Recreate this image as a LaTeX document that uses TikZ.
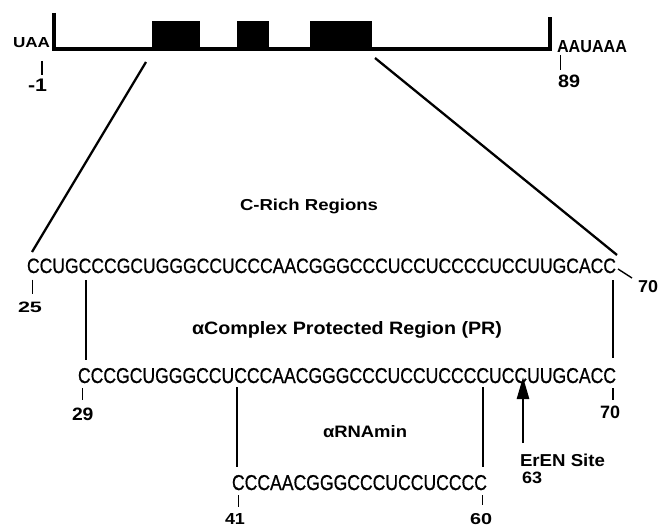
\documentclass[tikz,border=0pt]{standalone}
\usepackage{fontspec}
\setmainfont{Liberation Sans}
\newfontfamily\seqfont[FakeBold=0.8]{Liberation Sans}
\usepackage{graphicx}
\usetikzlibrary{arrows.meta}
\newcommand{\fitbox}[3]{\resizebox{#1pt}{#2pt}{#3}}
\begin{document}
\begin{tikzpicture}[x=1pt,y=-1pt,
  seq/.style={anchor=base west, inner sep=0pt, outer sep=0pt, font=\seqfont},
  lbl/.style={anchor=base west, inner sep=0pt, outer sep=0pt, font=\bfseries},
  gene/.style={line width=3.4pt, line join=miter},
  conn/.style={line width=2.3pt},
  tick/.style={line width=1.4pt},
  hair/.style={line width=1pt},
  arr/.style={line width=2.6pt, -{Triangle[length=22pt,width=12pt]}}]
\useasboundingbox (0,0) rectangle (661,527);
% gene map
\draw[gene] (54,13) -- (54,49) -- (550,49) -- (550,17);
\fill (152,21.5) rectangle (200,49.5);
\fill (237,21.5) rectangle (269,49.5);
\fill (310,21.5) rectangle (372,49.5);
\node[lbl] (uaa) at (13,48) {\fitbox{37}{10}{UAA}};
\node[lbl] (aauaaa) at (557,52.5) {\fitbox{70}{12}{AAUAAA}};
\node[lbl] (nm1) at (28,92) {\fitbox{19}{12.5}{-1}};
\node[lbl] (n89) at (558,88) {\fitbox{22}{12.5}{89}};
\coordinate (tUt) at (42,61); \coordinate (tUb) at (42,75);
\coordinate (tAt) at (560.5,55); \coordinate (tAb) at (560.5,70);
\draw[tick] (tUt) -- (tUb);
\draw[tick] (tAt) -- (tAb);
% zoom lines
\coordinate (gL) at (146,62); \coordinate (sL) at (32,252);
\coordinate (gR) at (375,58); \coordinate (sR) at (617,255);
\draw[conn] (gL) -- (sL);
\draw[conn] (gR) -- (sR);
\node[lbl] (crich) at (240,210) {\fitbox{138}{11.5}{C-Rich Regions}};
% sequence 1
\node[seq] (s1) at (27,273) {\fitbox{589}{14.5}{CCUGCCCGCUGGGCCUCCCAACGGGCCCUCCUCCCCUCCUUGCACC}};
\node[lbl] (n25) at (18,312) {\fitbox{24}{10.5}{25}};
\coordinate (t25t) at (32.3,279.5); \coordinate (t25b) at (32.3,293.5);
\draw[tick] (t25t) -- (t25b);
\coordinate (t70a) at (618,269); \coordinate (t70b) at (632,278);
\draw[tick] (t70a) -- (t70b);
\node[lbl] (n70a) at (638,292) {\fitbox{20}{12}{70}};
\coordinate (v1t) at (86,280); \coordinate (v1b) at (86,360);
\coordinate (v2t) at (613,280); \coordinate (v2b) at (613,358);
\draw[conn] (v1t) -- (v1b);
\draw[conn] (v2t) -- (v2b);
\node[lbl] (pr) at (192,334) {\fitbox{310}{13}{αComplex Protected Region (PR)}};
% sequence 2
\node[seq] (s2) at (78,383) {\fitbox{538}{15}{CCCGCUGGGCCUCCCAACGGGCCCUCCUCCCCUCCUUGCACC}};
\coordinate (t29t) at (82.3,388); \coordinate (t29b) at (82.3,400);
\draw[tick] (t29t) -- (t29b);
\node[lbl] (n29) at (72,420) {\fitbox{21.5}{12.5}{29}};
\coordinate (t70t) at (613,388); \coordinate (t70bb) at (613,400);
\draw[tick] (t70t) -- (t70bb);
\node[lbl] (n70b) at (600,418) {\fitbox{20}{12.5}{70}};
\coordinate (v3t) at (237,387); \coordinate (v3b) at (237,467);
\coordinate (v4t) at (483,387); \coordinate (v4b) at (483,467);
\draw[conn] (v3t) -- (v3b);
\draw[conn] (v4t) -- (v4b);
\coordinate (arrB) at (523,443); \coordinate (arrT) at (523,377);
\draw[arr] (arrB) -- (arrT);
\node[lbl] (rnamin) at (323,437) {\fitbox{84}{12}{αRNAmin}};
\node[lbl] (eren) at (520,466.5) {\fitbox{85}{12.5}{ErEN Site}};
\node[lbl] (n63) at (522,483) {\fitbox{20}{11.5}{63}};
% sequence 3
\node[seq] (s3) at (232,490) {\fitbox{255}{15}{CCCAACGGGCCCUCCUCCCC}};
\coordinate (t41t) at (238,495); \coordinate (t41b) at (238,507);
\coordinate (t60t) at (482,495); \coordinate (t60b) at (482,505);
\draw[hair] (t41t) -- (t41b);
\draw[hair] (t60t) -- (t60b);
\node[lbl] (n41) at (225,524) {\fitbox{20}{11}{41}};
\node[lbl] (n60) at (470,524) {\fitbox{22}{11}{60}};
\end{tikzpicture}
\end{document}
